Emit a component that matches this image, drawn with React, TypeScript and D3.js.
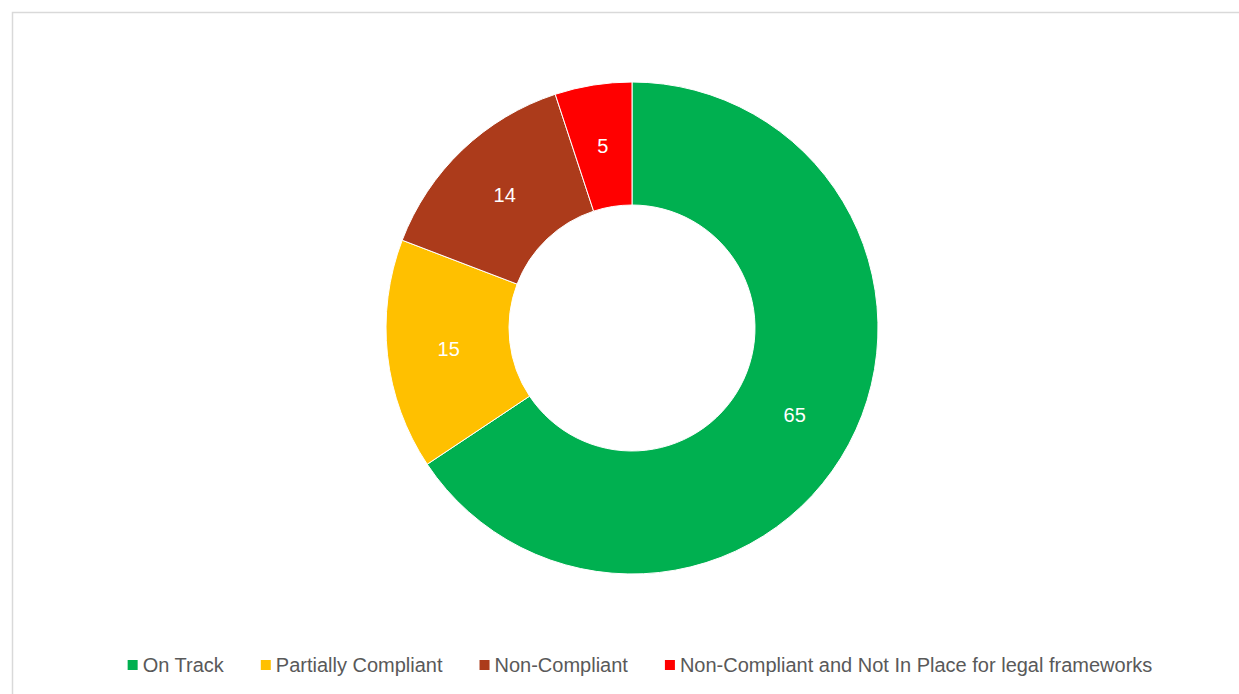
import React, { useEffect, useRef } from "react";
import * as d3 from "d3";

const categories: string[] = [
  "On Track",
  "Partially Compliant",
  "Non-Compliant",
  "Non-Compliant and Not In Place for legal frameworks",
];
const values: number[] = [65, 15, 14, 5];
const colors: string[] = ["#00B050", "#FFC000", "#AC3B1B", "#FF0000"];

const W = 1239;
const H = 694;

export default function App() {
  const ref = useRef<SVGSVGElement | null>(null);

  useEffect(() => {
    const svg = d3.select(ref.current);
    svg.selectAll("*").remove();

    svg
      .append("rect")
      .attr("width", W)
      .attr("height", H)
      .attr("fill", "#ffffff");

    svg
      .append("rect")
      .attr("x", 12.5)
      .attr("y", 12.5)
      .attr("width", W + 20)
      .attr("height", H + 20)
      .attr("fill", "#ffffff")
      .attr("stroke", "#d9d9d9")
      .attr("stroke-width", 1.5);

    const cx = 632;
    const cy = 328;
    const outerR = 246;
    const innerR = 123;

    const data = categories.map((c, i) => ({ name: c, value: values[i], color: colors[i] }));
    const pie = d3
      .pie<any>()
      .value((d: any) => d.value)
      .sort(null);
    const arcs = pie(data);
    const arc = d3.arc<any>().innerRadius(innerR).outerRadius(outerR);

    const g = svg.append("g").attr("transform", `translate(${cx},${cy})`);
    g.selectAll("path")
      .data(arcs)
      .enter()
      .append("path")
      .attr("d", arc as any)
      .attr("fill", (d: any) => d.data.color)
      .attr("stroke", "#ffffff")
      .attr("stroke-width", 1);

    g.selectAll("text.lbl")
      .data(arcs)
      .enter()
      .append("text")
      .attr("class", "lbl")
      .attr("transform", (d: any) => {
        const [x, y] = arc.centroid(d);
        return `translate(${x},${y})`;
      })
      .attr("text-anchor", "middle")
      .attr("dy", "0.36em")
      .attr("font-family", "'Liberation Sans', Arial, sans-serif")
      .attr("font-size", 20)
      .attr("fill", "#ffffff")
      .text((d: any) => String(d.data.value));

    // Legend
    const legendY = 665;
    const markerSize = 10;
    const markerGap = 5;
    const itemGap = 37;
    const lg = svg.append("g");
    const items = lg
      .selectAll("g.item")
      .data(data)
      .enter()
      .append("g")
      .attr("class", "item");
    items
      .append("rect")
      .attr("width", markerSize)
      .attr("height", markerSize)
      .attr("y", legendY - markerSize / 2)
      .attr("fill", (d: any) => d.color);
    const texts = items
      .append("text")
      .attr("x", markerSize + markerGap)
      .attr("y", legendY)
      .attr("dy", "0.36em")
      .attr("font-family", "'Liberation Sans', Arial, sans-serif")
      .attr("font-size", 20)
      .attr("fill", "#595959")
      .text((d: any) => d.name);
    const widths: number[] = [];
    texts.each(function () {
      widths.push((this as SVGTextElement).getComputedTextLength());
    });
    const itemW = widths.map((w) => markerSize + markerGap + w);
    const total = d3.sum(itemW) + itemGap * (itemW.length - 1);
    let x = 640 - total / 2;
    items.each(function (_d: any, i: number) {
      d3.select(this).attr("transform", `translate(${x},0)`);
      x += itemW[i] + itemGap;
    });
  }, []);

  return (
    <svg
      ref={ref}
      width={W}
      height={H}
      style={{ position: "absolute", left: 0, top: 0, display: "block" }}
    />
  );
}
